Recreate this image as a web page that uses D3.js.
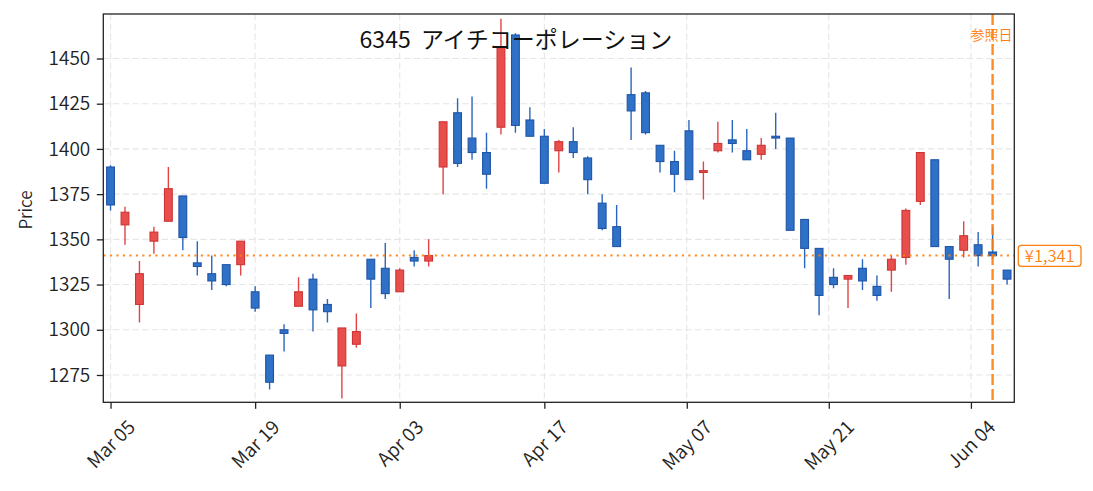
<!DOCTYPE html>
<html><head><meta charset="utf-8">
<script src="https://cdn.jsdelivr.net/npm/d3@7"></script>
<style>
body{margin:0;background:#fff}
svg{display:block}
text{font-family:"Noto Sans CJK JP","Noto Sans",sans-serif}
</style>
</head><body>
<svg id="chart" width="1093" height="491"></svg>
<script>
const opens  = [1390,1358,1314,1349,1360,1374,1337,1331,1336,1336,1321,1286,1300,1313,1328,1314,1280,1292,1339,1334,1321,1340,1338,1390,1420,1406,1398,1412,1463,1416,1407,1399,1404,1395,1370,1357,1430,1431,1402,1393,1410,1387,1399,1405,1399,1397,1407,1406,1361,1345,1329,1328,1334,1324,1333,1340,1371,1394,1346,1344,1347,1343,1333];
const highs  = [1391,1368,1338,1357,1390,1374,1349,1341,1336,1349,1324,1286,1303,1329,1331,1317,1301,1309,1339,1348,1334,1344,1350,1415,1428,1429,1409,1472,1464,1423,1411,1405,1412,1396,1375,1369,1445,1432,1402,1399,1416,1393,1415,1416,1411,1406,1420,1406,1361,1345,1334,1330,1339,1330,1341,1367,1398,1394,1346,1360,1354,1357,1333];
const lows   = [1366,1347,1304,1342,1360,1344,1330,1322,1324,1330,1310,1267,1288,1313,1299,1304,1262,1290,1312,1317,1321,1335,1335,1375,1390,1394,1378,1408,1409,1407,1381,1387,1395,1375,1355,1346,1405,1408,1387,1376,1383,1372,1398,1398,1394,1394,1400,1355,1334,1308,1323,1312,1322,1316,1321,1336,1369,1346,1317,1340,1335,1339,1325];
const closes = [1369,1365,1331,1354,1378,1351,1335,1327,1325,1349,1312,1271,1298,1321,1311,1310,1301,1299,1328,1320,1333,1338,1341,1415,1392,1398,1386,1456,1413,1407,1381,1404,1398,1383,1356,1346,1421,1409,1393,1386,1383,1388,1403,1403,1394,1402,1406,1355,1345,1319,1325,1330,1327,1319,1339,1366,1398,1346,1339,1352,1341,1341,1328];
const tickLabels = ["Mar 05","Mar 19","Apr 03","Apr 17","May 07","May 21","Jun 04"];
const tickIndex  = [0,10,20,30,39.85,49.67,59.5];
const yTicks = [1275,1300,1325,1350,1375,1400,1425,1450];
const refIndex = 61;
const refPrice = 1341;
const refLabel = "参照日";
const priceLabel = "¥1,341";
const titleText = "6345  アイチコーポレーション";
const yLabel = "Price";

const W = 1093, H = 491;
const m = {l:103.3, r:78.7, t:14, b:88.7};
const svg = d3.select("#chart");
const pw = W - m.l - m.r, ph = H - m.t - m.b;
const FONT = '"Noto Sans CJK JP","Noto Sans",sans-serif';
const TICK_FS = 19;
const FW = 350;

const x = d3.scaleLinear().domain([-0.5, opens.length - 0.5]).range([m.l, m.l + pw]);
const y = d3.scaleLinear().domain([1259.9, 1474.6]).range([m.t + ph, m.t]);

const UP_FILL = "#e84e4c", UP_EDGE = "#cf3434", UP_WICK = "#e04444";
const DN_FILL = "#2e71c7", DN_EDGE = "#1f54a6", DN_WICK = "#2a66bd";
const ORANGE = "#ff7f0e";

const clipId = "plotclip";
svg.append("defs").append("clipPath").attr("id", clipId)
  .append("rect").attr("x", m.l).attr("y", m.t).attr("width", pw).attr("height", ph);

// grid
const grid = svg.append("g");
grid.selectAll("line.gy").data(yTicks).join("line")
  .attr("x1", m.l).attr("x2", m.l + pw)
  .attr("y1", d => y(d)).attr("y2", d => y(d))
  .attr("stroke", "#e6e6e6").attr("stroke-width", 1.1).attr("stroke-dasharray", "6.5 3.2");
grid.selectAll("line.gx").data(tickIndex).join("line")
  .attr("y1", m.t).attr("y2", m.t + ph)
  .attr("x1", d => x(d)).attr("x2", d => x(d))
  .attr("stroke", "#e6e6e6").attr("stroke-width", 1.1).attr("stroke-dasharray", "6.5 3.2");

// candles
const data = opens.map((o, i) => ({i, o, h: highs[i], l: lows[i], c: closes[i]}));
const cg = svg.append("g").attr("clip-path", `url(#${clipId})`);
const bw = 7.8;
const cand = cg.selectAll("g.c").data(data).join("g");
cand.append("line")
  .attr("x1", d => x(d.i)).attr("x2", d => x(d.i))
  .attr("y1", d => y(d.h)).attr("y2", d => y(d.l))
  .attr("stroke", d => d.c >= d.o ? UP_WICK : DN_WICK)
  .attr("stroke-width", 1.4);
cand.append("rect")
  .attr("x", d => x(d.i) - bw / 2)
  .attr("width", bw)
  .attr("y", d => y(Math.max(d.o, d.c)))
  .attr("height", d => Math.max(1, Math.abs(y(d.o) - y(d.c))))
  .attr("fill", d => d.c >= d.o ? UP_FILL : DN_FILL)
  .attr("stroke", d => d.c >= d.o ? UP_EDGE : DN_EDGE)
  .attr("stroke-width", 1.1);

// reference price line
cg.append("line")
  .attr("x1", m.l).attr("x2", m.l + pw)
  .attr("y1", y(refPrice)).attr("y2", y(refPrice))
  .attr("stroke", ORANGE).attr("stroke-width", 2).attr("stroke-dasharray", "2.2 4.3")
  .attr("opacity", 0.9);

// reference date line
cg.append("line")
  .attr("x1", x(refIndex)).attr("x2", x(refIndex))
  .attr("y1", m.t).attr("y2", m.t + ph)
  .attr("stroke", ORANGE).attr("stroke-width", 2.4).attr("stroke-dasharray", "11 4")
  .attr("opacity", 0.9);

svg.append("text")
  .attr("x", x(refIndex) - 1).attr("y", 40)
  .attr("text-anchor", "middle")
  .attr("fill", ORANGE).attr("font-size", 14).attr("font-weight", FW)
  .text(refLabel);

// axes frame
svg.append("rect").attr("x", m.l).attr("y", m.t).attr("width", pw).attr("height", ph)
  .attr("fill", "none").attr("stroke", "#222").attr("stroke-width", 1.3);

// y axis
const yAxis = svg.append("g").attr("transform", `translate(${m.l},0)`)
  .call(d3.axisLeft(y).tickValues(yTicks).tickSize(6.5).tickPadding(6.5).tickFormat(d3.format("d")));
yAxis.select(".domain").remove();
yAxis.selectAll(".tick line").attr("stroke", "#222").attr("stroke-width", 1.3);
yAxis.selectAll(".tick text").attr("font-size", TICK_FS).attr("fill", "#222")
  .attr("font-family", FONT).attr("font-weight", FW);

// x axis
const xAxis = svg.append("g").attr("transform", `translate(0,${m.t + ph})`)
  .call(d3.axisBottom(x).tickValues(tickIndex).tickSize(6.5).tickFormat((d, k) => tickLabels[k]));
xAxis.select(".domain").remove();
xAxis.selectAll(".tick line").attr("stroke", "#222").attr("stroke-width", 1.3);
xAxis.selectAll(".tick text").each(function(d) {
  const t = d3.select(this)
    .attr("font-size", TICK_FS).attr("fill", "#222")
    .attr("font-family", FONT).attr("font-weight", FW)
    .attr("text-anchor", "middle").attr("dy", "0.35em").attr("y", 0);
  const L = this.getComputedTextLength();
  const h = TICK_FS * 1.0;
  const half = (L + h) / (2 * Math.SQRT2);
  t.attr("transform", `translate(0,${417 - (m.t + ph) + half}) rotate(-45)`);
});

// price label box
const lg = svg.append("g");
lg.append("rect")
  .attr("x", 1018.3).attr("y", 245.3).attr("width", 62.7).attr("height", 21)
  .attr("rx", 3).attr("fill", "#fff").attr("stroke", ORANGE).attr("stroke-width", 1.3);
lg.append("text")
  .attr("x", 1049.7).attr("y", 256).attr("dy", "0.36em")
  .attr("text-anchor", "middle").attr("fill", ORANGE).attr("font-size", 16.5).attr("font-weight", FW)
  .text(priceLabel);

// title (spaces kept as non-breaking so both show)
svg.append("text")
  .attr("x", 516).attr("y", 48)
  .attr("text-anchor", "middle").attr("font-size", 23).attr("fill", "#111").attr("font-weight", 400)
  .text(titleText.replace(/ /g, "\u00a0"));

// y label
svg.append("text")
  .attr("transform", `translate(31.5,210) rotate(-90)`)
  .attr("text-anchor", "middle").attr("font-size", 17).attr("fill", "#222").attr("font-weight", FW)
  .text(yLabel);
</script>
</body></html>
